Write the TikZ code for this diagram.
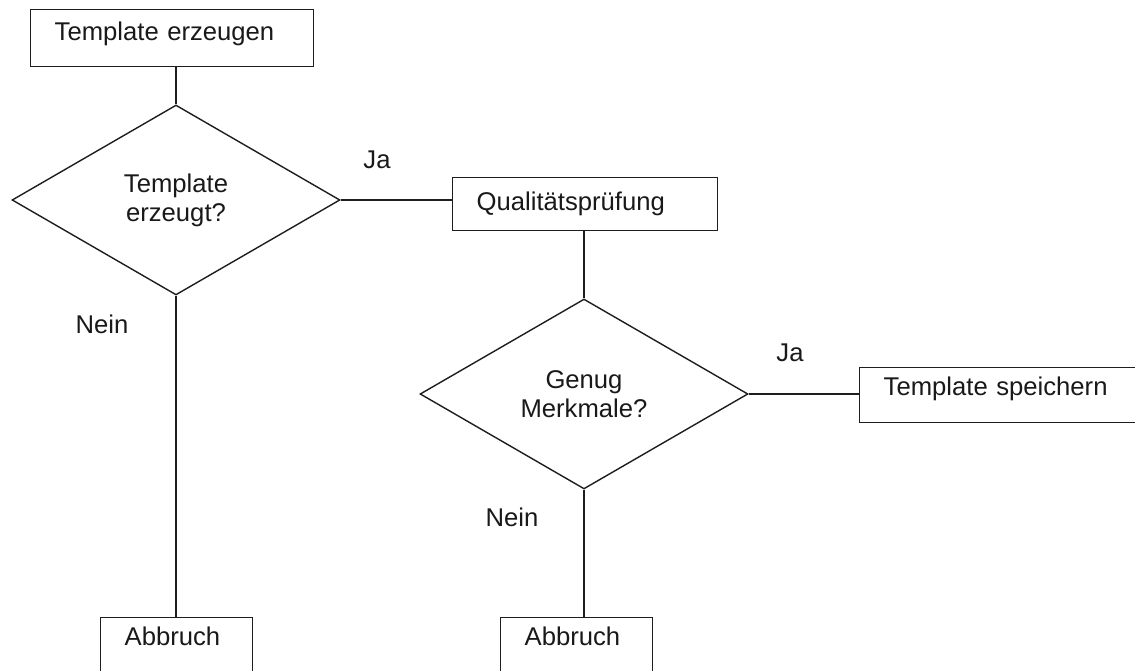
\documentclass[tikz,border=0pt]{standalone}
\usepackage{fontspec}
\setmainfont{Liberation Sans}
\definecolor{flowline}{RGB}{30,30,30}
\definecolor{flowtext}{RGB}{25,25,25}
\usetikzlibrary{shapes.geometric,calc}

\begin{document}
\begin{tikzpicture}[
  x=0.02cm, y=-0.02cm,
  every node/.style={font=\fontsize{14.6}{16.5}\selectfont,text=flowtext},
  stepbox/.style={draw=flowline,line width=0.8pt,anchor=north west,
                  inner xsep=0.48cm,inner ysep=0pt,align=left},
  decision/.style={draw=flowline,line width=0.8pt,diamond,aspect=1.7,inner sep=0pt,
                   minimum width=6.56cm,minimum height=3.8cm,align=center},
  conn/.style={flowline,line width=0.8pt},
  lbl/.style={inner sep=0pt},
]
  % page frame
  \useasboundingbox (0,0) rectangle (1135,671);

  % boxes
  \node[stepbox,text width=4.7cm,text height=0.62cm,text depth=0.52cm]
    (erzeugen) at (30,9) {Template erzeugen};
  \node[stepbox,text width=4.34cm,text height=0.66cm,text depth=0.40cm]
    (quali) at (452,177) {Qualitätsprüfung};
  \node[stepbox,text width=4.76cm,text height=0.56cm,text depth=0.54cm]
    (speichern) at (859,367) {Template speichern};
  \node[stepbox,text width=2.08cm,text height=0.56cm,text depth=1.1cm]
    (abbruchA) at (100,617) {Abbruch};
  \node[stepbox,text width=2.08cm,text height=0.56cm,text depth=1.1cm]
    (abbruchB) at (500,617) {Abbruch};

  % decisions
  \node[decision] (erzeugt) at (176,200) {Template\\erzeugt?};
  \node[decision] (merkmale) at (584,394) {Genug\\Merkmale?};

  % connectors
  \draw[conn] (erzeugt.north) -- (erzeugt.north |- erzeugen.south);
  \draw[conn] (erzeugt.east) -- (erzeugt.east -| quali.west);
  \draw[conn] (merkmale.north) -- (merkmale.north |- quali.south);
  \draw[conn] (merkmale.east) -- (merkmale.east -| speichern.west);
  \draw[conn] (erzeugt.south) -- (erzeugt.south |- abbruchA.north);
  \draw[conn] (merkmale.south) -- (merkmale.south |- abbruchB.north);

  % branch labels
  \node[lbl] (jaA)   at (377,160) {Ja};
  \node[lbl] (neinA) at (102,324) {Nein};
  \node[lbl] (jaB)   at (790,353) {Ja};
  \node[lbl] (neinB) at (512,517) {Nein};
\end{tikzpicture}
\end{document}
